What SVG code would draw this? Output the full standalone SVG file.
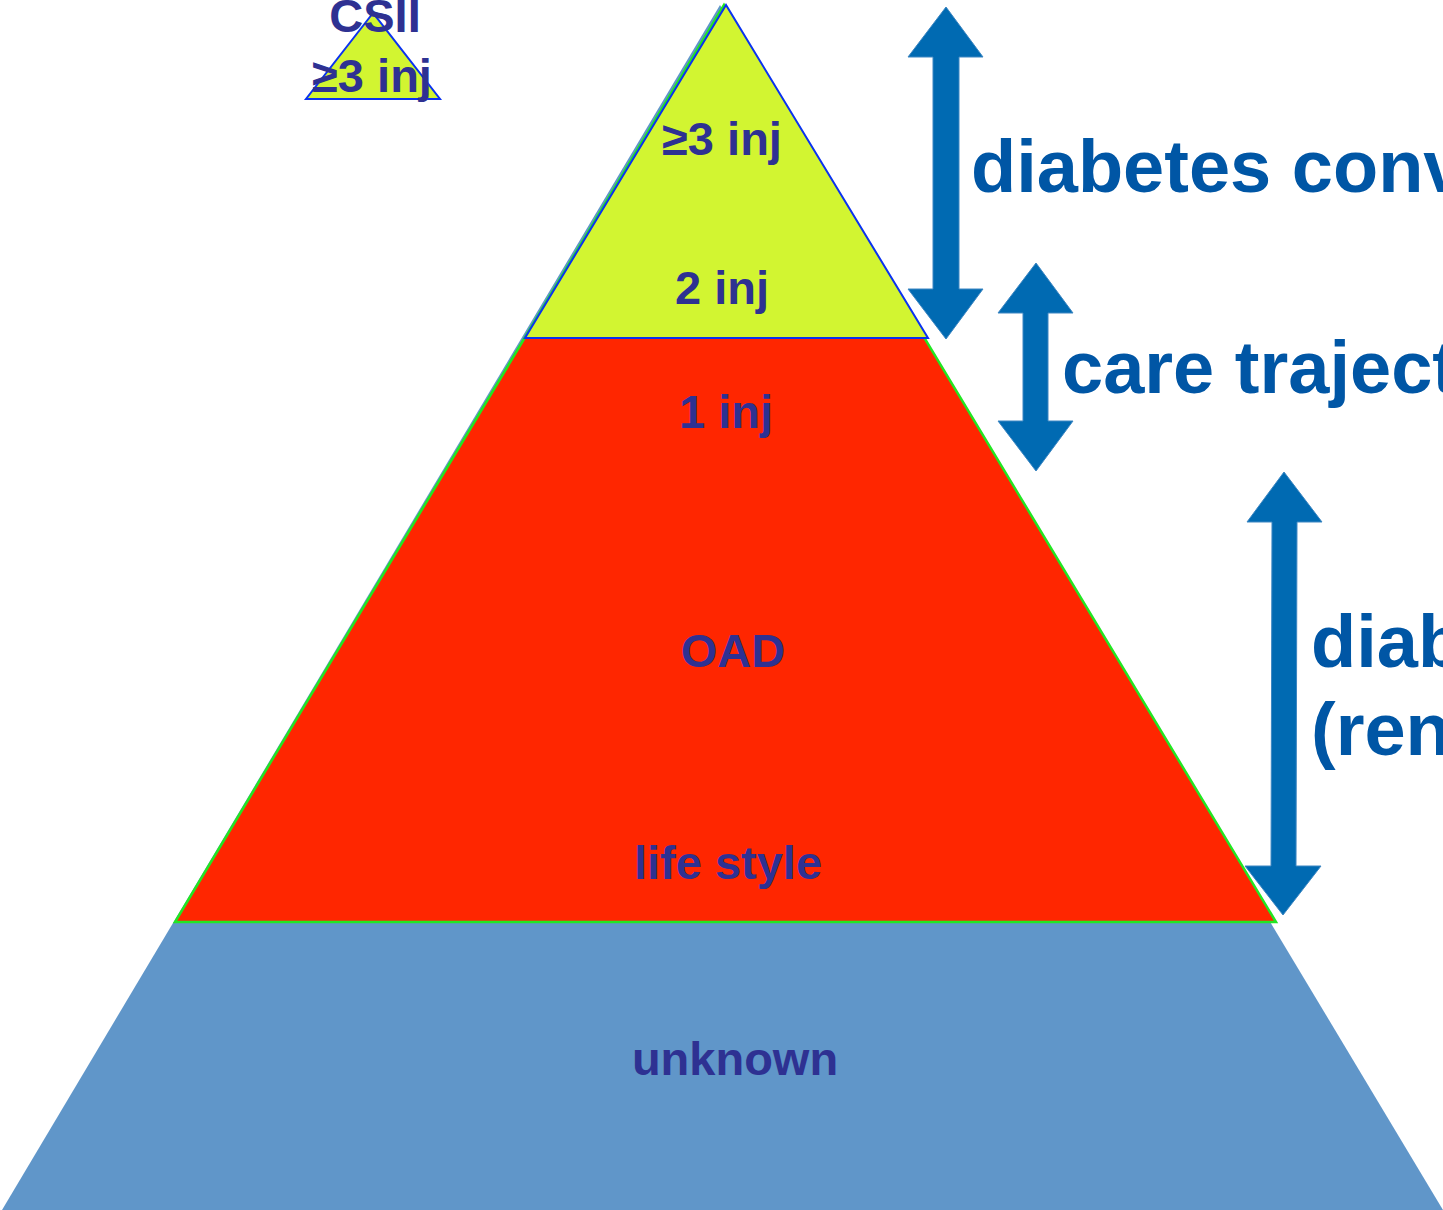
<svg xmlns="http://www.w3.org/2000/svg" width="1443" height="1210" viewBox="0 0 1443 1210">
<style>
.lbl{font-family:"Liberation Sans",Arial,sans-serif;font-weight:bold;font-size:47px;fill:#2E3192;text-anchor:middle}
.side{font-family:"Liberation Sans",Arial,sans-serif;font-weight:bold;font-size:74px;fill:#0056A5}
.arr{fill:#006AB2;stroke:#3C86C2;stroke-width:1}
</style>
<rect width="1443" height="1210" fill="#FFFFFF"/>
<g id="level-unknown">
<polygon points="720,5 2,1210 1443,1210" fill="#6096C9"/>
<text class="lbl" x="735" y="1075">unknown</text>
</g>
<g id="level-red">
<polygon points="724,5 175,922 1276,922" fill="#FF2600" stroke="#22E622" stroke-width="2.5"/>
<text class="lbl" x="726" y="428">1 inj</text>
<text class="lbl" x="733" y="667">OAD</text>
<text class="lbl" x="728" y="879">life style</text>
</g>
<g id="level-yellow">
<polygon points="726,5 525,338 928,338" fill="#D2F531" stroke="#0A32F0" stroke-width="2"/>
<text class="lbl" x="722" y="155">≥3 inj</text>
<text class="lbl" x="722" y="304">2 inj</text>
</g>
<g id="csii">
<polygon points="373,13 306,99 440,99" fill="#D2F531" stroke="#0A32F0" stroke-width="2"/>
<text class="lbl" x="375" y="32">CSII</text>
<text class="lbl" x="372" y="92">≥3 inj</text>
</g>
<g id="connectors">
<polygon class="arr" points="946,7 983,57 959,57 959,289 983,289 946,339 908,289 933,289 933,57 908,57"/>
<polygon class="arr" points="1036,263 1073,313 1048,313 1048,421 1073,421 1036,471 998,421 1023,421 1023,313 998,313"/>
<polygon class="arr" points="1284,472 1322,522 1297,522 1296,866 1321,866 1283,915 1245,866 1271,866 1272,522 1247,522"/>
</g>
<g id="side-labels">
<text class="side" x="971" y="192">diabetes conv</text>
<text class="side" x="1062" y="393">care traject</text>
<text class="side" x="1311" y="667">diab</text>
<text class="side" x="1311" y="755">(ren</text>
</g>
</svg>
